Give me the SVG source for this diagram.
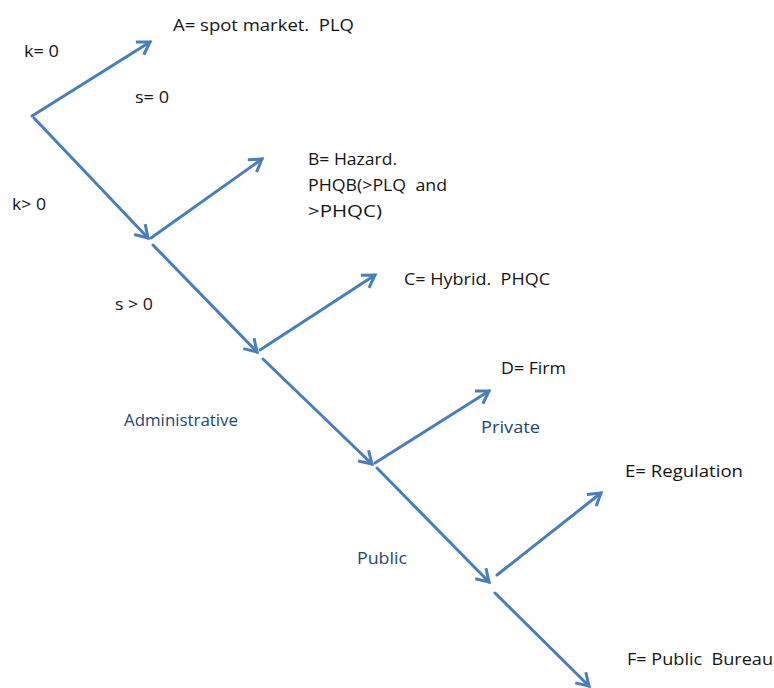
<svg xmlns="http://www.w3.org/2000/svg" width="774" height="688" viewBox="0 0 774 688">
  <style>
    .edge { stroke: #4a7ebb; stroke-width: 3; fill: none; stroke-linecap: round; marker-end: url(#open); }
    text { white-space: pre; font-family: "Open Sans", "Liberation Sans", sans-serif; font-size: 17px; }
    .lbl { font-weight: 500; fill: #141414; }
    .cond { font-weight: 500; fill: #24466f; }
  </style>
  <defs>
    <marker id="open" viewBox="0 0 12 12" refX="10" refY="6" markerWidth="6" markerHeight="6" orient="auto" markerUnits="strokeWidth">
      <path d="M2,1 L10,6 L2,11" fill="none" stroke="#4a7ebb" stroke-width="2" stroke-linejoin="miter"/>
    </marker>
  </defs>
  <rect width="774" height="688" fill="#ffffff"/>

  <g id="connectors">
    <line class="edge" x1="32" y1="116" x2="150" y2="42"/>
    <line class="edge" x1="34" y1="118" x2="148" y2="238"/>
    <line class="edge" x1="151" y1="238" x2="262" y2="159"/>
    <line class="edge" x1="153" y1="245" x2="257" y2="352"/>
    <line class="edge" x1="260" y1="350" x2="375" y2="275"/>
    <line class="edge" x1="263" y1="359" x2="372" y2="464"/>
    <line class="edge" x1="375" y1="463" x2="489" y2="391"/>
    <line class="edge" x1="377" y1="468" x2="489" y2="582"/>
    <line class="edge" x1="497" y1="575" x2="601" y2="493"/>
    <line class="edge" x1="495" y1="593" x2="589" y2="686"/>
  </g>

  <g id="node-a"><text class="lbl" x="173" y="31" textLength="181" lengthAdjust="spacingAndGlyphs">A= spot market.  PLQ</text></g>
  <g id="node-b">
    <text class="lbl" x="308" y="165" textLength="89" lengthAdjust="spacingAndGlyphs">B= Hazard.</text>
    <text class="lbl" x="308" y="191" textLength="139" lengthAdjust="spacingAndGlyphs">PHQB(&gt;PLQ  and</text>
    <text class="lbl" x="308" y="217" textLength="74" lengthAdjust="spacingAndGlyphs">&gt;PHQC)</text>
  </g>
  <g id="node-c"><text class="lbl" x="404" y="285" textLength="146" lengthAdjust="spacingAndGlyphs">C= Hybrid.  PHQC</text></g>
  <g id="node-d"><text class="lbl" x="501" y="374" textLength="65" lengthAdjust="spacingAndGlyphs">D= Firm</text></g>
  <g id="node-e"><text class="lbl" x="625" y="477" textLength="118" lengthAdjust="spacingAndGlyphs">E= Regulation</text></g>
  <g id="node-f"><text class="lbl" x="627" y="665" textLength="146" lengthAdjust="spacingAndGlyphs">F= Public  Bureau</text></g>

  <g id="edge-labels">
    <text class="lbl" x="24" y="57" textLength="35" lengthAdjust="spacingAndGlyphs">k= 0</text>
    <text class="lbl" x="135" y="103" textLength="34" lengthAdjust="spacingAndGlyphs">s= 0</text>
    <text class="lbl" x="12" y="210" textLength="34" lengthAdjust="spacingAndGlyphs">k&gt; 0</text>
    <text class="lbl" x="115" y="310" textLength="38" lengthAdjust="spacingAndGlyphs">s &gt; 0</text>
    <text class="cond" x="124" y="426" textLength="114" lengthAdjust="spacingAndGlyphs">Administrative</text>
    <text class="cond" x="481" y="433" textLength="59" lengthAdjust="spacingAndGlyphs">Private</text>
    <text class="cond" x="357" y="564" textLength="50" lengthAdjust="spacingAndGlyphs">Public</text>
  </g>
</svg>
